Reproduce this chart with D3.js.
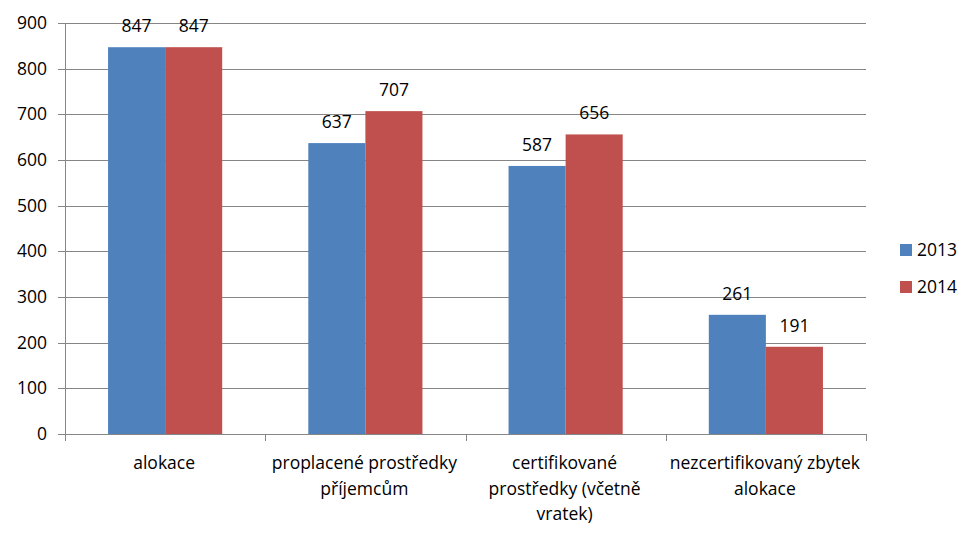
<!DOCTYPE html>
<html><head><meta charset="utf-8">
<script src="https://cdn.jsdelivr.net/npm/d3@7"></script>
<style>body{margin:0;background:#fff}text{font-family:"Open Sans",Lato,sans-serif;fill:#000}</style>
</head><body><svg id="c" width="980" height="538"></svg>
<script>
const categories = ["alokace","proplacené prostředky příjemcům","certifikované prostředky (včetně vratek)","nezcertifikovaný zbytek alokace"];
const categoryLines = [["alokace"],["proplacené prostředky","příjemcům"],["certifikované","prostředky (včetně","vratek)"],["nezcertifikovaný zbytek","alokace"]];
const seriesNames = ["2013","2014"];
const values2013 = [847,637,587,261];
const values2014 = [847,707,656,191];
const yTicks = [0,100,200,300,400,500,600,700,800,900];
const colors = ["#4F81BD","#C0504D"];

const svg = d3.select("#c");
const L = 65, R = 866, T = 23, B = 434;
const FS = 17.5;
const x = d3.scaleBand().domain(categories).range([L,R]).paddingInner(0).paddingOuter(0);
const y = d3.scaleLinear().domain([0,900]).range([B,T]);
const bw = x.bandwidth()*0.285;
const data = [values2013, values2014];

// gridlines
svg.append("g").selectAll("line").data(yTicks).join("line")
  .attr("x1",58).attr("x2",R).attr("y1",d=>Math.round(y(d))+0.5).attr("y2",d=>Math.round(y(d))+0.5)
  .attr("stroke","#868686").attr("stroke-width",1);
// y axis line
svg.append("line").attr("x1",L+0.5).attr("x2",L+0.5).attr("y1",T).attr("y2",B).attr("stroke","#868686");
// category ticks
const catTicks = categories.map(c=>x(c)).concat([R]);
svg.append("g").selectAll("line").data(catTicks).join("line")
  .attr("x1",d=>Math.round(d)+0.5).attr("x2",d=>Math.round(d)+0.5).attr("y1",B).attr("y2",B+7).attr("stroke","#868686");
// y labels
svg.append("g").selectAll("text").data(yTicks).join("text")
  .attr("x",47).attr("y",d=>y(d)).attr("dy","0.35em").attr("text-anchor","end")
  .attr("font-size",FS).text(d=>d);

// bars
data.forEach((vals,si)=>{
  const g = svg.append("g");
  g.selectAll("rect").data(vals).join("rect")
    .attr("x",(d,i)=>x(categories[i])+x.bandwidth()/2 - bw + si*bw)
    .attr("y",d=>y(d)).attr("width",bw).attr("height",d=>B-y(d))
    .attr("fill",colors[si]);
  g.selectAll("text").data(vals).join("text")
    .attr("x",(d,i)=>x(categories[i])+x.bandwidth()/2 - bw/2 + si*bw)
    .attr("y",d=>y(d)-15).attr("text-anchor","middle").attr("font-size",FS).text(d=>d);
});

// category labels
categoryLines.forEach((lines,i)=>{
  const t = svg.append("text").attr("text-anchor","middle").attr("font-size",FS);
  lines.forEach((ln,j)=>{
    t.append("tspan").attr("x",x(categories[i])+x.bandwidth()/2 - 1).attr("y",469+j*25.5).text(ln);
  });
});

// legend
seriesNames.forEach((s,i)=>{
  const ly = 250 + i*37;
  svg.append("rect").attr("x",900).attr("y",ly-6).attr("width",12).attr("height",12).attr("fill",colors[i]);
  svg.append("text").attr("x",917).attr("y",ly).attr("dy","0.35em").attr("font-size",FS).text(s);
});
</script></body></html>
